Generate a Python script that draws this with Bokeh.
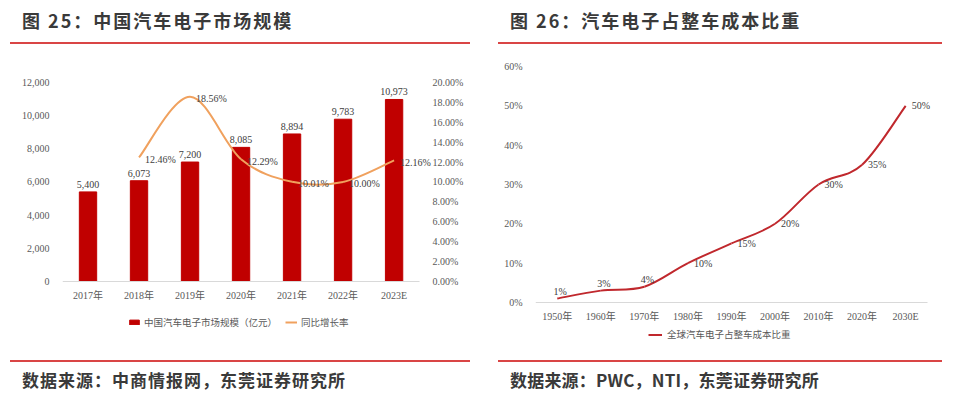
from bokeh.plotting import figure
from bokeh.models import (Range1d, LinearAxis, FixedTicker, NumeralTickFormatter, CustomJSTickFormatter,
                          PrintfTickFormatter, Legend, LegendItem, Div, ColumnDataSource)
from bokeh.layouts import row, column
from bokeh.embed import file_html
from bokeh.resources import INLINE
from bokeh.core.properties import value

# ---------------- data ----------------
years = ["2017年", "2018年", "2019年", "2020年", "2021年", "2022年", "2023E"]
market = [5400, 6073, 7200, 8085, 8894, 9783, 10973]
market_labels = ["5,400", "6,073", "7,200", "8,085", "8,894", "9,783", "10,973"]
growth_years = ["2018年", "2019年", "2020年", "2021年", "2022年", "2023E"]
growth = [12.46, 18.56, 12.29, 10.01, 10.00, 12.16]
growth_labels = ["12.46%", "18.56%", "12.29%", "10.01%", "10.00%", "12.16%"]

decades = ["1950年", "1960年", "1970年", "1980年", "1990年", "2000年", "2010年", "2020年", "2030E"]
share = [1, 3, 4, 10, 15, 20, 30, 35, 50]
share_labels = ["1%", "3%", "4%", "10%", "15%", "20%", "30%", "35%", "50%"]

left_ticks = [0, 2000, 4000, 6000, 8000, 10000, 12000]
pct_ticks = [0, 2, 4, 6, 8, 10, 12, 14, 16, 18, 20]
right_ticks = [0, 10, 20, 30, 40, 50, 60]

TITLE1 = "图 25：中国汽车电子市场规模"
TITLE2 = "图 26：汽车电子占整车成本比重"
SRC1 = "数据来源：中商情报网，东莞证券研究所"
SRC2 = "数据来源：PWC，NTI，东莞证券研究所"
LEG1 = "中国汽车电子市场规模（亿元）"
LEG2 = "同比增长率"
LEG3 = "全球汽车电子占整车成本比重"

SERIF = "'Liberation Serif', 'Noto Sans CJK SC', serif"
CJK = "'Noto Sans CJK SC', sans-serif"
LABEL_C = "#595959"
RULE_C = "#D94545"


def slot(cats, names):
    """Category name -> position of the category's centre on the numeric x scale."""
    return [cats.index(n) + 0.5 for n in names]


def smooth(xs, ys):
    """Bezier segments (Excel-like smoothing) through the data points."""
    n = len(xs)
    d = dict(x0=[], y0=[], x1=[], y1=[], cx0=[], cy0=[], cx1=[], cy1=[])
    for i in range(n - 1):
        xp, yp = (xs[i - 1], ys[i - 1]) if i > 0 else (xs[i], ys[i])
        xn, yn = (xs[i + 2], ys[i + 2]) if i + 2 < n else (xs[i + 1], ys[i + 1])
        d["x0"].append(xs[i]); d["y0"].append(ys[i])
        d["x1"].append(xs[i + 1]); d["y1"].append(ys[i + 1])
        d["cx0"].append(xs[i] + (xs[i + 1] - xp) / 6)
        d["cy0"].append(ys[i] + (ys[i + 1] - yp) / 6)
        d["cx1"].append(xs[i + 1] - (xn - xs[i]) / 6)
        d["cy1"].append(ys[i + 1] - (yn - ys[i]) / 6)
    return ColumnDataSource(d)


def style_axes(p, cats):
    for ax in p.yaxis:
        ax.axis_line_color = None
        ax.major_tick_line_color = None
        ax.minor_tick_line_color = None
        ax.major_label_text_font = SERIF
        ax.major_label_text_font_size = "10px"
        ax.major_label_text_color = LABEL_C
        ax.major_label_standoff = 7
    for ax in p.xaxis:
        ax.axis_line_color = "#D9D9D9"
        ax.major_tick_line_color = None
        ax.minor_tick_line_color = None
        ax.major_label_text_font = SERIF
        ax.major_label_text_font_size = "10px"
        ax.major_label_text_color = LABEL_C
        ax.major_label_standoff = 3
        ax.fixed_location = 0
        ax.bounds = (0, len(cats))
        ax.ticker = FixedTicker(ticks=slot(cats, cats))
        ax.formatter = CustomJSTickFormatter(args=dict(labels=cats),
                                             code="return labels[Math.round(tick - 0.5)] || ''")
    p.xgrid.grid_line_color = None
    p.ygrid.grid_line_color = None
    p.outline_line_color = None


def title_div(text, left, width, spacing):
    html = (f'<div style="margin-left:{left}px;width:{width}px;height:44px;overflow:hidden;'
            f'border-bottom:2px solid {RULE_C};font-family:{CJK};font-size:18px;font-weight:bold;'
            f'letter-spacing:{spacing}px;color:#3a3a3a;line-height:40px;padding-left:12px;'
            f'box-sizing:border-box;white-space:nowrap;">{text}</div>')
    return Div(text=html, width=478, height=44, margin=(0, 0, 0, 0))


def source_div(text, left, width, spacing):
    html = (f'<div style="margin-left:{left}px;width:{width}px;height:37px;overflow:hidden;'
            f'border-top:2px solid {RULE_C};font-family:{CJK};font-size:17px;font-weight:bold;'
            f'letter-spacing:{spacing}px;color:#3a3a3a;line-height:36px;padding-left:12px;'
            f'box-sizing:border-box;white-space:nowrap;">{text}</div>')
    return Div(text=html, width=478, height=37, margin=(0, 0, 0, 0))


# ---------------- left chart ----------------
p1 = figure(width=478, height=316, x_range=Range1d(0, len(years) + 0.9),
            y_range=Range1d(-3200, 12600),
            output_backend="svg", toolbar_location=None,
            min_border_left=62, min_border_right=13, min_border_top=28, min_border_bottom=26)
p1.extra_y_ranges = {"pct": Range1d(-3200 / 600, 12600 / 600)}

bx = slot(years, years)
bars = p1.vbar(x=bx, top=market, width=0.34, color="#C00000")
p1.text(x=bx, y=market, text=market_labels, text_align="center", text_baseline="bottom",
        y_offset=-4, text_font=value(SERIF), text_font_size="10px", text_color="#404040")

gx = slot(years, growth_years)
curve = p1.bezier(x0="x0", y0="y0", x1="x1", y1="y1", cx0="cx0", cy0="cy0", cx1="cx1", cy1="cy1",
                  source=smooth(gx, growth), line_color="#F0A15E", line_width=2, y_range_name="pct")
p1.text(x=gx, y=growth, text=growth_labels, text_align="left", text_baseline="middle",
        x_offset=6, y_offset=2, text_font=value(SERIF), text_font_size="10px", text_color="#404040",
        y_range_name="pct")

p1.yaxis.ticker = FixedTicker(ticks=left_ticks)
p1.yaxis.formatter = NumeralTickFormatter(format="0,0")
p1.add_layout(LinearAxis(y_range_name="pct", ticker=FixedTicker(ticks=pct_ticks),
                         formatter=PrintfTickFormatter(format="%.2f%%"), fixed_location=len(years)), "right")
style_axes(p1, years)

leg1 = Legend(items=[LegendItem(label=LEG1, renderers=[bars]), LegendItem(label=LEG2, renderers=[curve])],
              orientation="horizontal", location=(66, 5), border_line_alpha=0, background_fill_alpha=0,
              label_text_font=CJK, label_text_font_size="9.5px", label_text_color=LABEL_C,
              glyph_width=12, glyph_height=6, label_height=12, label_standoff=4, spacing=8,
              padding=0, margin=0)
p1.add_layout(leg1, "center")

# ---------------- right chart ----------------
p2 = figure(width=478, height=316, x_range=Range1d(0, len(decades) + 0.3),
            y_range=Range1d(-10.7, 60),
            output_backend="svg", toolbar_location=None,
            min_border_left=57, min_border_right=16, min_border_top=22, min_border_bottom=16)
sx = slot(decades, decades)
line2 = p2.bezier(x0="x0", y0="y0", x1="x1", y1="y1", cx0="cx0", cy0="cy0", cx1="cx1", cy1="cy1",
                  source=smooth(sx, share), line_color="#C0282D", line_width=2)
p2.text(x=sx[:3], y=share[:3], text=share_labels[:3], text_align="center", text_baseline="middle",
        x_offset=3, y_offset=-7, text_font=value(SERIF), text_font_size="10px", text_color="#404040")
p2.text(x=sx[3:], y=share[3:], text=share_labels[3:], text_align="left", text_baseline="middle",
        x_offset=6, y_offset=0, text_font=value(SERIF), text_font_size="10px", text_color="#404040")
p2.yaxis.ticker = FixedTicker(ticks=right_ticks)
p2.yaxis.formatter = PrintfTickFormatter(format="%d%%")
style_axes(p2, decades)

leg2 = Legend(items=[LegendItem(label=LEG3, renderers=[line2])],
              orientation="horizontal", location=(113, 3), border_line_alpha=0, background_fill_alpha=0,
              label_text_font=CJK, label_text_font_size="9.5px", label_text_color=LABEL_C,
              glyph_width=14, glyph_height=7, label_height=12, label_standoff=5,
              padding=0, margin=0)
p2.add_layout(leg2, "center")

left = column(title_div(TITLE1, 10, 460, 2.0), p1, source_div(SRC1, 10, 460, 1.0), spacing=0)
right = column(title_div(TITLE2, 20, 444, 2.0), p2, source_div(SRC2, 20, 444, 0.2), spacing=0)
layout = row(left, right, spacing=0)

with open("out.html", "w") as f:
    f.write(file_html(layout, INLINE))
